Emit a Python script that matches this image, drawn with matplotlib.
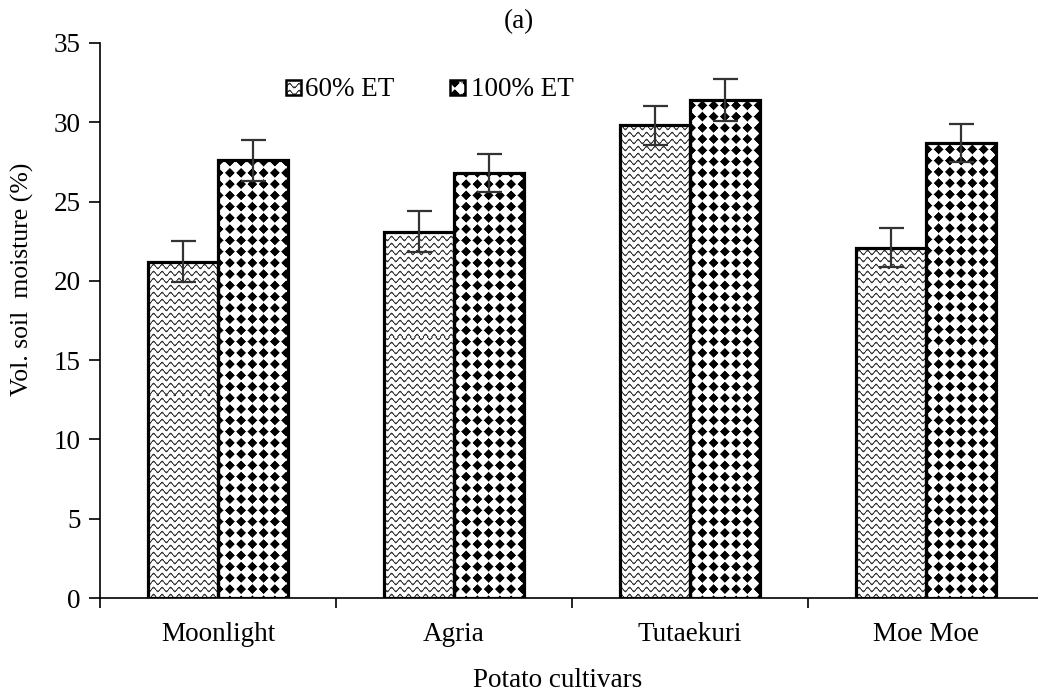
import matplotlib
matplotlib.use("Agg")
import matplotlib.pyplot as plt
import numpy as np
from matplotlib.patches import Rectangle


cultivars = ["Moonlight", "Agria", "Tutaekuri", "Moe Moe"]
et60 = [21.2, 23.1, 29.8, 22.1]
et100 = [27.6, 26.8, 31.4, 28.7]
err60 = [1.3, 1.3, 1.25, 1.25]
err100 = [1.3, 1.2, 1.3, 1.2]
series_labels = ["60% ET", "100% ET"]
yticks = [0, 5, 10, 15, 20, 25, 30, 35]

plt.rcParams["font.family"] = ["Liberation Serif", "DejaVu Serif"]
FS = 19.5

fig = plt.figure(figsize=(10.38, 6.95), dpi=100)
ax = fig.add_axes([100 / 1038, 1 - 598 / 695, 944 / 1038, 555 / 695])

# pixel textures used as bar fills
H, W = 555, 944
rr, cc = np.mgrid[0:H, 0:W].astype(float)

yy = rr + 1.9 * np.sin(2 * np.pi * cc / 8.5)
m = np.mod(yy, 7.0)
dist = np.minimum(m, 7.0 - m)
wave_img = 1 - 0.8 * np.clip(1.35 - dist, 0, 1)

step = 11.25
d = np.abs(np.mod(cc, step) - step / 2) + np.abs(np.mod(rr, step) - step / 2)
diam_img = 1 - np.clip(5.4 - d, 0, 1)

textures = [wave_img, diam_img]
extent = (-0.5, 3.5, 0, 35)


def textured(img, clip):
    im = ax.imshow(img, cmap="gray", vmin=0, vmax=1, extent=extent,
                   aspect="auto", interpolation="nearest", zorder=2)
    im.set_clip_path(clip)


x = np.arange(len(cultivars))
w = 0.296
for vals, errs, off, tex in [(et60, err60, -w / 2, wave_img),
                             (et100, err100, w / 2, diam_img)]:
    bars = ax.bar(x + off, vals, w, facecolor="none", edgecolor="black",
                  linewidth=2.3, zorder=3)
    for b in bars:
        textured(tex, b)
    ax.errorbar(x + off, vals, yerr=errs, fmt="none", ecolor="#333333",
                elinewidth=1.6, capsize=9, capthick=1.6, zorder=4)

# legend drawn by hand so the swatches carry the same textures
legend_pos = [(0.197, 0.217), (0.371, 0.393)]
for (bx, tx), lab, tex in zip(legend_pos, series_labels, textures):
    box = Rectangle((bx, 0.906), 0.0159, 0.027, transform=ax.transAxes,
                    facecolor="none", edgecolor="black", linewidth=1.8,
                    zorder=5)
    ax.add_patch(box)
    textured(tex, box)
    ax.text(tx, 0.917, lab, transform=ax.transAxes, ha="left", va="center",
            fontsize=FS)

ax.set_xlim(-0.5, 3.5)
ax.set_ylim(0, 35)
ax.set_yticks(yticks)
ax.set_xticks(x)
ax.set_xticklabels(cultivars, fontsize=FS)
ax.set_xticks(np.arange(len(cultivars) + 1) - 0.5, minor=True)
ax.tick_params(axis="x", which="major", length=0, pad=17)
ax.tick_params(axis="x", which="minor", length=7, width=1.2, direction="out")
ax.tick_params(axis="y", length=8, width=1.2, pad=6, labelsize=FS)

for side in ["top", "right"]:
    ax.spines[side].set_visible(False)
for side in ["left", "bottom"]:
    ax.spines[side].set_linewidth(1.2)

ax.set_ylabel("Vol. soil  moisture (%)", fontsize=18.5)
ax.yaxis.set_label_coords(-0.070, 0.575)
ax.set_xlabel("Potato cultivars", fontsize=FS)
ax.xaxis.set_label_coords(0.485, -0.126)

fig.text(0.5, 1 - 22 / 695, "(a)", ha="center", va="center", fontsize=FS)

fig.savefig("out.png", dpi=100)
